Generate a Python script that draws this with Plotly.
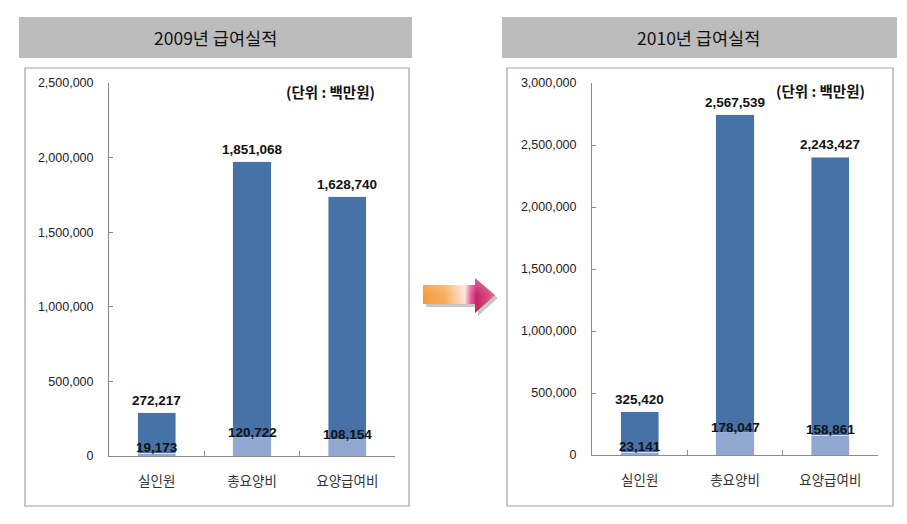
import base64
import plotly.graph_objects as go

W, H = 907, 524

categories = ["실인원", "총요양비", "요양급여비"]
titles = ["2009년 급여실적", "2010년 급여실적"]
unit_label = "(단위 : 백만원)"
dark_2009 = [272217, 1851068, 1628740]
light_2009 = [19173, 120722, 108154]
dark_2010 = [325420, 2567539, 2243427]
light_2010 = [23141, 178047, 158861]
yrange_2009 = [0, 2500000]
yrange_2010 = [0, 3000000]

DARK = "#4672a8"
LIGHT = "#91a8d2"


def fx(x):
    return x / W


def fy(y):
    return 1 - y / H


fig = go.Figure()

panels = [
    dict(dark=dark_2009, light=light_2009, yr=yrange_2009, xa="x", ya="y",
         plot=(109, 395, 83, 456), title_box=(19, 412, 17, 58), box=(25, 409, 68, 506),
         title_x=215, unit_x=330, unit_y=92),
    dict(dark=dark_2010, light=light_2010, yr=yrange_2010, xa="x2", ya="y2",
         plot=(592, 878, 83, 455), title_box=(502, 897, 17, 58), box=(507, 893, 68, 506),
         title_x=698, unit_x=820, unit_y=90),
]

num_font = "Liberation Sans, Noto Sans CJK KR"
kr_font = "Noto Sans CJK KR"

shapes = []
annotations = []
for i, p in enumerate(panels):
    fig.add_trace(go.Bar(x=categories, y=p["light"], marker_color=LIGHT, width=0.4,
                         xaxis=p["xa"], yaxis=p["ya"], showlegend=False, hoverinfo="skip"))
    fig.add_trace(go.Bar(x=categories, y=p["dark"], marker_color=DARK, width=0.4,
                         xaxis=p["xa"], yaxis=p["ya"], showlegend=False, hoverinfo="skip"))
    x0, x1, y0, y1 = p["plot"]
    suffix = "" if i == 0 else str(i + 1)
    fig.update_layout(**{
        "xaxis" + suffix: dict(domain=[fx(x0), fx(x1)], anchor="y" + suffix, type="category",
                               showline=True, linecolor="#8a8a8a", linewidth=1,
                               ticks="inside", tickson="boundaries", ticklen=5, tickcolor="#8a8a8a",
                               tickfont=dict(family=kr_font, size=13.5, color="#333"),
                               ticklabelstandoff=13, showgrid=False, zeroline=False,
                               automargin=False, range=[-0.5, 2.5], fixedrange=True),
        "yaxis" + suffix: dict(domain=[fy(y1), fy(y0)], anchor="x" + suffix, range=p["yr"],
                               dtick=500000, tickformat=",", showline=True, linecolor="#8a8a8a",
                               linewidth=1, ticks="inside", ticklen=4, tickcolor="#8a8a8a",
                               tickfont=dict(family=num_font, size=12.5, color="#222"),
                               ticklabelstandoff=12, showgrid=False, zeroline=False,
                               automargin=False, fixedrange=True),
    })
    tx0, tx1, ty0, ty1 = p["title_box"]
    shapes.append(dict(type="rect", xref="paper", yref="paper", x0=fx(tx0), x1=fx(tx1),
                       y0=fy(ty1), y1=fy(ty0), fillcolor="#bcbcbc", line=dict(width=0), layer="below"))
    annotations.append(dict(text=titles[i], xref="paper", yref="paper", x=fx(p["title_x"]),
                            y=fy((ty0 + ty1) / 2), showarrow=False, xanchor="center", yanchor="middle",
                            font=dict(family=kr_font, size=17.5, color="#111")))
    bx0, bx1, by0, by1 = p["box"]
    shapes.append(dict(type="rect", xref="paper", yref="paper", x0=fx(bx0), x1=fx(bx1),
                       y0=fy(by1), y1=fy(by0), fillcolor="white",
                       line=dict(color="#a0a0a0", width=1.2), layer="below"))
    annotations.append(dict(text="<b>" + unit_label + "</b>", xref="paper", yref="paper",
                            x=fx(p["unit_x"]), y=fy(p["unit_y"]), showarrow=False,
                            xanchor="center", yanchor="middle",
                            font=dict(family=kr_font, size=14.5, color="#111")))
    for c, d, l in zip(categories, p["dark"], p["light"]):
        annotations.append(dict(text="<b>{:,}</b>".format(d), xref=p["xa"], yref=p["ya"], x=c, y=d + l,
                                showarrow=False, xanchor="center", yanchor="bottom", yshift=3,
                                font=dict(family=num_font, size=13.5, color="#111")))
        annotations.append(dict(text="<b>{:,}</b>".format(l), xref=p["xa"], yref=p["ya"], x=c, y=l,
                                showarrow=False, xanchor="center", yanchor="bottom", yshift=-4,
                                font=dict(family=num_font, size=13.5, color="#111")))

arrow_svg = """<svg xmlns='http://www.w3.org/2000/svg' width='80' height='40' viewBox='0 0 80 40'>
<defs><linearGradient id='g' x1='0' y1='0' x2='1' y2='0'>
<stop offset='0' stop-color='#f59a3a'/><stop offset='0.3' stop-color='#f8ae5c'/>
<stop offset='0.58' stop-color='#fde6dc'/><stop offset='0.66' stop-color='#e6669a'/>
<stop offset='0.74' stop-color='#c8206e'/><stop offset='0.9' stop-color='#d44a78'/>
<stop offset='1' stop-color='#e07a70'/></linearGradient>
<linearGradient id='v' x1='0' y1='0' x2='0' y2='1'>
<stop offset='0' stop-color='#ffffff' stop-opacity='0.3'/><stop offset='0.5' stop-color='#ffffff' stop-opacity='0'/>
<stop offset='1' stop-color='#000000' stop-opacity='0.08'/></linearGradient></defs>
<path d='M6 10 L58 10 L58 3 L78 20 L58 38 L58 29 L6 29 Z' fill='#9a9a9a' opacity='0.55'/>
<path d='M3 7 L55 7 L55 0 L75 17 L55 35 L55 26 L3 26 Z' fill='url(#g)'/>
<path d='M3 7 L55 7 L55 0 L75 17 L55 35 L55 26 L3 26 Z' fill='url(#v)'/>
</svg>"""
src = "data:image/svg+xml;base64," + base64.b64encode(arrow_svg.encode()).decode()

fig.update_layout(
    width=W, height=H, margin=dict(l=0, r=0, t=0, b=0, autoexpand=False),
    paper_bgcolor="white", plot_bgcolor="rgba(0,0,0,0)",
    barmode="stack", bargap=0.6, shapes=shapes, annotations=annotations,
    images=[dict(source=src, xref="paper", yref="paper", x=fx(420), y=fy(278),
                 sizex=fx(80), sizey=40 / H, xanchor="left", yanchor="top",
                 sizing="stretch", layer="above")],
)

fig.write_html("out.html")
